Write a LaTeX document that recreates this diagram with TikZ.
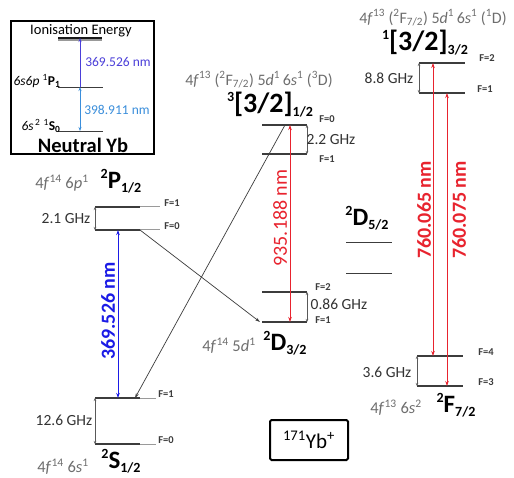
\documentclass[tikz,border=0pt]{standalone}
\usepackage{fontspec}
\setmainfont{Carlito}
\usetikzlibrary{arrows.meta}
\definecolor{lvl}{HTML}{3C3C3C}
\definecolor{lvlext}{HTML}{9A9A9A}
\definecolor{cfggray}{HTML}{6E6E6E}
\definecolor{lasred}{HTML}{E8232E}
\definecolor{lasblue}{HTML}{1B1BE6}
\definecolor{insblueA}{HTML}{4B3FD9}
\definecolor{insblueB}{HTML}{3A8EDB}
\newcommand{\fs}[1]{\fontsize{#1}{#1}\selectfont}
\newcommand{\termsym}[4]{\textbf{\fs{#4}\raisebox{0.4em}{\fs{14}#1}#2\raisebox{-0.15em}{\fs{14}#3}}}
\tikzset{
  level/.style={draw=lvl, line width=1.1pt},
  levelext/.style={draw=lvlext, line width=1pt},
  hfs/.style={draw=gray!70!black, line width=0.5pt, {Stealth[length=3pt,width=2.5pt]}-{Stealth[length=3pt,width=2.5pt]}},
  laser/.style={line width=0.75pt, {Stealth[length=5pt,width=3.5pt]}-{Stealth[length=5pt,width=3.5pt]}},
  decay/.style={draw=lvl, line width=0.7pt, -{Stealth[length=5pt,width=3pt]}},
  cfg/.style={font=\fs{16.5}, text=cfggray, inner sep=0pt},
  cfglong/.style={font=\fs{16}, text=cfggray, inner sep=0pt},
  fl/.style={font=\fs{10.5}\bfseries, text=lvl, inner sep=0pt},
  ghz/.style={font=\fs{15.5}, text=black!80, inner sep=0pt},
  trm/.style={inner sep=0pt}
}
\begin{document}
\begin{tikzpicture}[x=1pt,y=-1pt]
\useasboundingbox (0,0) rectangle (514,478);
\fill[white] (0,0) rectangle (514,478);

% ---------------- inset: neutral Yb ----------------
\draw[line width=2.6pt] (11,21) rectangle (154,154);
\node[font=\fs{14.5}, inner sep=0pt] (ion) at (81,30.5) {Ionisation Energy};
\coordinate (ionL) at (58,38); \coordinate (ionR) at (102,38);
\coordinate (ionLb) at (58,40.5); \coordinate (ionRb) at (102,40.5);
\draw[line width=2pt, gray!80] (ionLb) -- (ionRb);
\draw[line width=2.6pt, black!90] (ionL) -- (ionR);
\coordinate (p1L) at (58,87); \coordinate (p1R) at (103,87);
\coordinate (s0L) at (58,131); \coordinate (s0R) at (103,131);
\draw[lvl, line width=0.8pt] (p1L) -- (p1R);
\draw[lvl, line width=0.8pt] (s0L) -- (s0R);
\coordinate (iA) at (80,38); \coordinate (iB) at (80,87); \coordinate (iC) at (80,131);
\draw[insblueA, line width=0.6pt, -{Stealth[length=4pt,width=3pt]}] (iB) -- (iA);
\draw[insblueB, line width=0.6pt, {Stealth[length=4pt,width=3pt]}-{Stealth[length=4pt,width=3pt]}] (iC) -- (iB);
\node[font=\fs{13.5}, text=insblueA, inner sep=0pt] (n369i) at (118,62) {369.526 nm};
\node[font=\fs{13.5}, text=insblueB, inner sep=0pt] (n398i) at (117,110) {398.911 nm};
\node[font=\fs{13.5}, inner sep=0pt] (lp1) at (37,81) {\textit{6s6p} \textsuperscript{1}\textbf{P}\textsubscript{\textbf{1}}};
\node[font=\fs{13.5}, inner sep=0pt] (ls0) at (41,126) {\textit{6s}\textsuperscript{\,2} \textsuperscript{1}\textbf{S}\textsubscript{\textbf{0}}};
\node[font=\fs{20.5}\bfseries, inner sep=0pt] (nyb) at (83,145) {Neutral Yb};

% ---------------- 2P1/2 ----------------
\node[cfg] (cfgP) at (62,183) {4\textit{f}\textsuperscript{14} 6\textit{p}\textsuperscript{1}};
\node[trm] (trmP) at (121,181) {\termsym{2}{P}{1/2}{25}};
\coordinate (P1L) at (95,207); \coordinate (P1M) at (140,207); \coordinate (P1R) at (160,207);
\coordinate (P0L) at (95,230); \coordinate (P0M) at (140,230); \coordinate (P0R) at (160,230);
\draw[levelext] (P1M) -- (P1R); \draw[levelext] (P0M) -- (P0R);
\draw[level] (P1L) -- (P1M); \draw[level] (P0L) -- (P0M);
\draw[hfs] (P1L) -- (P0L);
\node[fl] (fP1) at (172,203) {F=1};
\node[fl] (fP0) at (172,226) {F=0};
\node[ghz] (gP) at (66,219) {2.1 GHz};

% ---------------- 2S1/2 ----------------
\coordinate (S1L) at (95,398); \coordinate (S1M) at (140,398); \coordinate (S1R) at (156,398);
\coordinate (S0L) at (95,444); \coordinate (S0M) at (140,444); \coordinate (S0R) at (156,444);
\draw[levelext] (S1M) -- (S1R); \draw[levelext] (S0M) -- (S0R);
\draw[level] (S1L) -- (S1M); \draw[level] (S0L) -- (S0M);
\draw[hfs] (S1L) -- (S0L);
\node[fl] (fS1) at (166,394) {F=1};
\node[fl] (fS0) at (166,440) {F=0};
\node[ghz] (gS) at (64,420) {12.6 GHz};
\node[cfg] (cfgS) at (63,467) {4\textit{f}\textsuperscript{14} 6\textit{s}\textsuperscript{1}};
\node[trm] (trmS) at (121,461) {\termsym{2}{S}{1/2}{25}};

% 369 nm cooling transition
\coordinate (bTop) at (118,230); \coordinate (bBot) at (118,398);
\draw[laser, lasblue, line width=0.9pt] (bTop) -- (bBot);
\node[rotate=90, font=\fs{20}\bfseries, text=lasblue, inner sep=0pt] (n369) at (108,311) {369.526 nm};

% ---------------- 3[3/2]1/2 ----------------
\node[cfglong] (cfgB) at (259,80) {4\textit{f}\textsuperscript{13} (\textsuperscript{2}F\textsubscript{7/2}) 5\textit{d}\textsuperscript{1}\,6\textit{s}\textsuperscript{1} (\textsuperscript{3}D)};
\node[trm] (trmB) at (270,105) {\termsym{3}{[3/2]}{1/2}{28}};
\coordinate (B0L) at (262,125); \coordinate (B0R) at (307,125);
\coordinate (B1L) at (262,154); \coordinate (B1R) at (307,154);
\draw[level] (B0L) -- (B0R); \draw[level] (B1L) -- (B1R);
\draw[hfs] (B0R) -- (B1R);
\node[fl] (fB0) at (327,119) {F=0};
\node[fl] (fB1) at (327,159) {F=1};
\node[ghz] (gB) at (331,140) {2.2 GHz};

% ---------------- 2D3/2 ----------------
\coordinate (D2L) at (262,292); \coordinate (D2R) at (307,292);
\coordinate (D1L) at (262,322); \coordinate (D1R) at (307,322);
\draw[level] (D2L) -- (D2R); \draw[level] (D1L) -- (D1R);
\draw[hfs] (D2R) -- (D1R);
\node[fl] (fD2) at (323,287) {F=2};
\node[fl] (fD1) at (323,320) {F=1};
\node[ghz] (gD) at (339,304) {0.86 GHz};
\node[cfg] (cfgD) at (229,346) {4\textit{f}\textsuperscript{14} 5\textit{d}\textsuperscript{1}};
\node[trm] (trmD) at (285,343) {\termsym{2}{D}{3/2}{25}};

% 935 nm repump
\coordinate (rTop) at (290,125); \coordinate (rBot) at (290,322);
\draw[laser, lasred] (rTop) -- (rBot);
\node[rotate=90, font=\fs{20}, text=lasred, inner sep=0pt] (n935) at (280,218) {935.188 nm};

% decay paths
\coordinate (decPa) at (140,230); \coordinate (decPb) at (260,322);
\draw[decay] (decPa) -- (decPb);
\coordinate (decBa) at (285,125); \coordinate (decBb) at (135,398);
\draw[decay] (decBa) -- (decBb);

% ---------------- 2D5/2 ----------------
\node[trm] (trmD5) at (367,218) {\termsym{2}{D}{5/2}{25}};
\coordinate (E1L) at (346,242); \coordinate (E1R) at (392,242);
\coordinate (E2L) at (346,273); \coordinate (E2R) at (392,273);
\draw[lvl, line width=0.8pt] (E1L) -- (E1R);
\draw[lvl, line width=0.8pt] (E2L) -- (E2R);

% ---------------- 1[3/2]3/2 ----------------
\node[cfglong] (cfgC) at (433,18) {4\textit{f}\textsuperscript{13} (\textsuperscript{2}F\textsubscript{7/2}) 5\textit{d}\textsuperscript{1}\,6\textit{s}\textsuperscript{1} (\textsuperscript{1}D)};
\node[trm] (trmC) at (425,43) {\termsym{1}{[3/2]}{3/2}{28}};
\coordinate (C2L) at (419,63); \coordinate (C2R) at (465,63);
\coordinate (C1L) at (419,93); \coordinate (C1R) at (465,93);
\draw[level] (C2L) -- (C2R); \draw[level] (C1L) -- (C1R);
\draw[hfs] (C2L) -- (C1L);
\node[fl] (fC2) at (487,58) {F=2};
\node[fl] (fC1) at (485,89) {F=1};
\node[ghz] (gC) at (389,78) {8.8 GHz};

% ---------------- 2F7/2 ----------------
\coordinate (F4L) at (417,356); \coordinate (F4R) at (463,356);
\coordinate (F3L) at (417,386); \coordinate (F3R) at (463,386);
\draw[level] (F4L) -- (F4R); \draw[level] (F3L) -- (F3R);
\draw[hfs] (F4L) -- (F3L);
\node[fl] (fF4) at (486,352) {F=4};
\node[fl] (fF3) at (486,382) {F=3};
\node[ghz] (gF) at (387,372) {3.6 GHz};
\node[cfg] (cfgF) at (396,408) {4\textit{f}\textsuperscript{13} 6\textit{s}\textsuperscript{2}};
\node[trm] (trmF) at (456,405) {\termsym{2}{F}{7/2}{25}};

% 760 nm repumps
\coordinate (uTop) at (433,63); \coordinate (uBot) at (433,356);
\coordinate (vTop) at (447,93); \coordinate (vBot) at (447,386);
\draw[laser, lasred] (uTop) -- (uBot);
\draw[laser, lasred] (vTop) -- (vBot);
\node[rotate=90, font=\fs{20}\bfseries, text=lasred, inner sep=0pt] (n760a) at (424,210) {760.065 nm};
\node[rotate=90, font=\fs{20}\bfseries, text=lasred, inner sep=0pt] (n760b) at (459,210) {760.075 nm};

% ---------------- ion label ----------------
\node[draw, line width=2pt, rounded corners=1.5pt, minimum width=78pt, minimum height=40pt, font=\fs{21}, inner sep=0pt] (ybion) at (309,440) {\textsuperscript{171}Yb\textsuperscript{+}};
\end{tikzpicture}
\end{document}
